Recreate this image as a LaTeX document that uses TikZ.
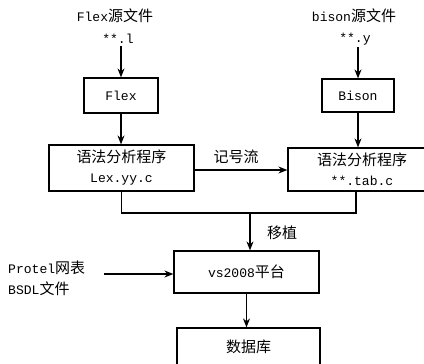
\documentclass[tikz,border=0pt]{standalone}
\usepackage{fontspec}
\setmainfont{Liberation Mono}[Scale=0.87]
\newfontfamily\cjk{Noto Sans CJK SC}
\usetikzlibrary{arrows.meta}
\begin{document}
\begin{tikzpicture}[x=1pt,y=-1pt,
  every node/.style={font=\fontsize{15}{18}\selectfont, inner sep=0pt},
  box/.style={draw, line width=1.2pt},
  conn/.style={line width=1.2pt},
  arr/.style={conn, -{Stealth[length=9pt,width=7pt]}}]
\useasboundingbox (0,0) rectangle (424,364);
\clip (0,0) rectangle (424,364);
% source texts
\node (flexsrc) at (115,16) {Flex{\cjk 源文件}};
\node (flexl) at (118,39) {**.l};
\node (bisonsrc) at (354,16) {bison{\cjk 源文件}};
\node (bisony) at (355,39) {**.y};
% boxes
\node[box, minimum width=74pt, minimum height=35pt] (flex) at (121,95.5) {Flex};
\node[box, minimum width=72pt, minimum height=33pt] (bison) at (358,95.5) {Bison};
\node[box, minimum width=145pt, minimum height=46pt, align=center] (lex) at (121.5,168) {{\cjk 语法分析程序}\\[2pt]Lex.yy.c};
\node[box, minimum width=148pt, minimum height=43pt, align=center] (tab) at (362,169.5) {{\cjk 语法分析程序}\\[2pt]**.tab.c};
\node[box, minimum width=145pt, minimum height=42pt] (vs) at (246.5,272) {vs2008{\cjk 平台}};
\node[box, minimum width=143pt, minimum height=38pt] (db) at (248.5,347) {\cjk 数据库};
\node[align=left, anchor=west] (protel) at (8,278.5) {Protel{\cjk 网表}\\[3pt]BSDL{\cjk 文件}};
% labels
\node (jhl) at (236,157) {\cjk 记号流};
\node (yz) at (282,233) {\cjk 移植};
% coordinates
\coordinate (bus) at (250,213);
\coordinate (busR) at (356,213);
\coordinate (pstart) at (104,274);
% connectors
\draw[arr] (flex.north |- flexl.south) ++(0,2) -- (flex.north);
\draw[arr] (bison.north |- bisony.south) ++(0,2) -- (bison.north);
\draw[arr] (flex.south) -- (lex.north -| flex.south);
\draw[arr] (bison.south) -- (tab.north -| bison.south);
\draw[arr] (lex.east) ++(0,2) -- (tab.west |- 0,170);
\draw[conn] (lex.south) |- (busR) -- (busR |- tab.south);
\draw[arr] (bus) -- (vs.north -| bus);
\draw[arr] (pstart) -- (vs.west |- pstart);
\draw[arr] (vs.south) -- (db.north -| vs.south);
\end{tikzpicture}
\end{document}
